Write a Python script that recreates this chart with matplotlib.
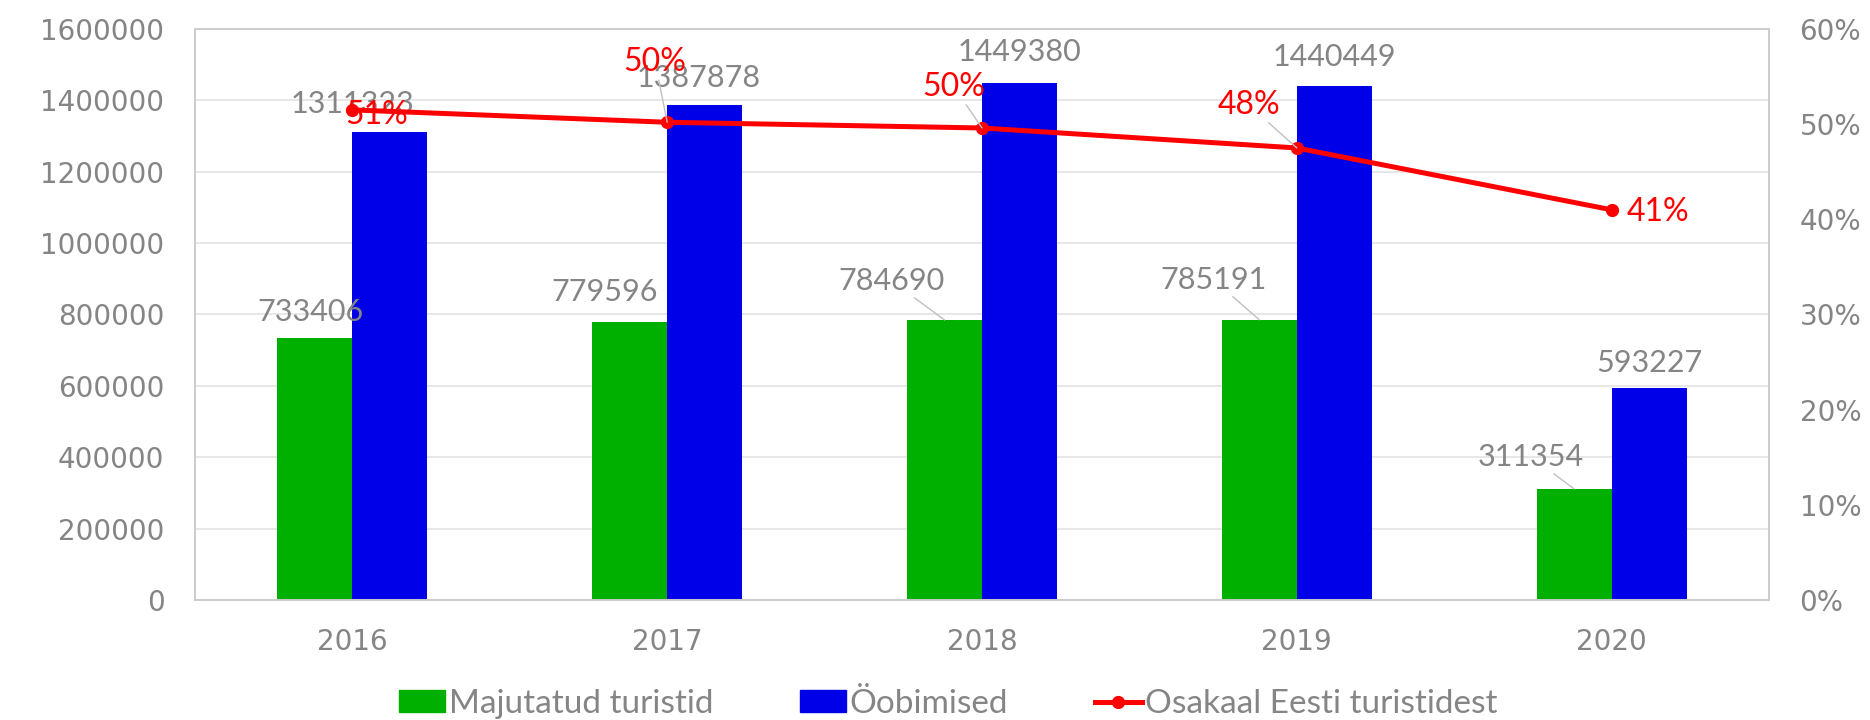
import matplotlib.pyplot as plt
from matplotlib.patches import Patch
from matplotlib.lines import Line2D
import numpy as np

years = ['2016', '2017', '2018', '2019', '2020']
majutatud = [733406, 779596, 784690, 785191, 311354]
oobimised = [1311323, 1387878, 1449380, 1440449, 593227]
osakaal = [0.515, 0.502, 0.496, 0.475, 0.41]
osakaal_labels = ['51%', '50%', '50%', '48%', '41%']

# label offsets in pixels (dx, dy), Excel-style hand placed labels
green_off = [(-4, 26), (-25, 30), (-53, 39), (-46, 40), (-43, 32)]
green_lead = [False, False, True, True, True]
blue_off = [(-37, 28), (-6, 27), (0, 31), (0, 29), (0, 25)]
pct_off = [(24, -5), (-12, 60), (-28, 41), (-48, 43), (46, -2)]
pct_lead = [False, True, True, True, False]

GREEN = '#00b000'
BLUE = '#0000e8'
RED = '#ff0000'
GREY = '#858585'
LEAD = '#c0c0c0'
lbl_font = ['Lato', 'DejaVu Sans']

plt.rcParams['font.family'] = ['DejaVu Sans']

fig = plt.figure(figsize=(18.7, 7.2), dpi=100)
ax = fig.add_axes([195 / 1870, 120 / 720, (1769 - 195) / 1870, (600 - 29) / 720])
ax2 = ax.twinx()

x = np.arange(len(years))
w = 0.238
ax.bar(x - w / 2, majutatud, w, color=GREEN, zorder=2)
ax.bar(x + w / 2, oobimised, w, color=BLUE, zorder=2)

ax.set_xlim(-0.5, len(years) - 0.5)
ax.set_ylim(0, 1600000)
ax.set_yticks(np.arange(0, 1600001, 200000))
ax.set_yticklabels([str(v) for v in range(0, 1600001, 200000)])
ax.set_xticks(x)
ax.set_xticklabels(years)
ax.grid(axis='y', color='#e3e3e3', lw=1.2, zorder=0)
ax.set_axisbelow(True)
ax.tick_params(axis='y', length=0, pad=22, labelsize=20, labelcolor=GREY)
ax.tick_params(axis='x', length=0, pad=20, labelsize=20, labelcolor=GREY)

ax2.plot(x, osakaal, color=RED, lw=3.6, marker='o', markersize=8.5, zorder=3)
ax2.set_ylim(0, 0.6)
ax2.set_yticks(np.arange(0, 0.61, 0.1))
ax2.set_yticklabels([f'{int(round(t * 100))}%' for t in np.arange(0, 0.61, 0.1)])
ax2.tick_params(axis='y', length=0, pad=22, labelsize=20, labelcolor=GREY)

for lbl in ax.get_xticklabels() + ax.get_yticklabels() + ax2.get_yticklabels():
    lbl.set_family('DejaVu Sans')

for a in (ax, ax2):
    for s in a.spines.values():
        s.set_color('#cccccc')
        s.set_linewidth(1.2)

lead = dict(arrowstyle='-', color=LEAD, lw=1, shrinkA=0, shrinkB=0)

for i in range(len(years)):
    ax.annotate(str(majutatud[i]), (x[i] - w / 2, majutatud[i]),
                xytext=green_off[i], textcoords='offset pixels',
                ha='center', va='center', fontsize=22, color=GREY, family=lbl_font,
                arrowprops=lead if green_lead[i] else None, zorder=4)
    ax.annotate(str(oobimised[i]), (x[i] + w / 2, oobimised[i]),
                xytext=blue_off[i], textcoords='offset pixels',
                ha='center', va='center', fontsize=22, color=GREY, family=lbl_font, zorder=4)
    ax2.annotate(osakaal_labels[i], (x[i], osakaal[i]),
                 xytext=pct_off[i], textcoords='offset pixels',
                 ha='center', va='center', fontsize=23, color=RED, family=lbl_font,
                 arrowprops=lead if pct_lead[i] else None, zorder=5)

handles = [Patch(color=GREEN), Patch(color=BLUE),
           Line2D([], [], color=RED, lw=3.6, marker='o', markersize=8.5)]
fig.legend(handles, ['Majutatud turistid', 'Öobimised', 'Osakaal Eesti turistidest'],
           loc='lower center', bbox_to_anchor=(948 / 1870, -0.04), ncol=3, frameon=False,
           handlelength=1.4, handleheight=0.6, handletextpad=0.1, columnspacing=2.6,
           prop={'family': lbl_font, 'size': 24}, labelcolor=GREY)

fig.savefig('out.png', dpi=100)
